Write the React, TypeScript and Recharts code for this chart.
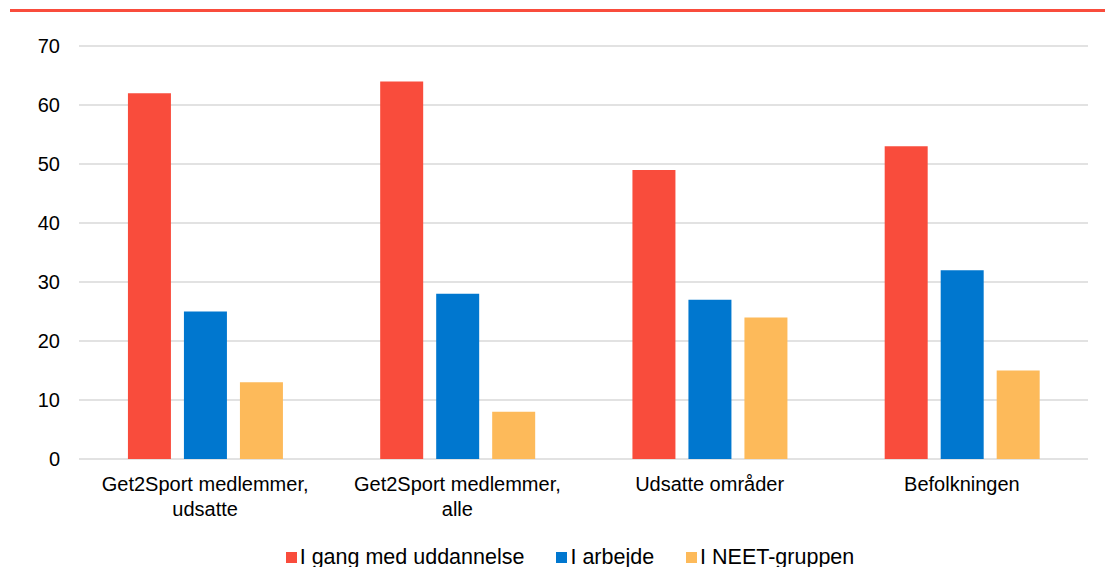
import React from "react";
import {
  BarChart,
  Bar,
  XAxis,
  YAxis,
  CartesianGrid,
  Legend,
} from "recharts";

const categories = [
  "Get2Sport medlemmer, udsatte",
  "Get2Sport medlemmer, alle",
  "Udsatte områder",
  "Befolkningen",
];
const uddannelse = [62, 64, 49, 53];
const arbejde = [25, 28, 27, 32];
const neet = [13, 8, 24, 15];
const yTicks = [0, 10, 20, 30, 40, 50, 60, 70];

const series = [
  { key: "uddannelse", name: "I gang med uddannelse", color: "#F94C3C" },
  { key: "arbejde", name: "I arbejde", color: "#0077CF" },
  { key: "neet", name: "I NEET-gruppen", color: "#FDBA5A" },
];

const data = categories.map((c, i) => ({
  name: c,
  uddannelse: uddannelse[i],
  arbejde: arbejde[i],
  neet: neet[i],
}));

const FONT = "'Liberation Sans', Arial, sans-serif";

// break long labels after the comma, like the original
function CategoryTick(props: any) {
  const { x, y, payload } = props;
  const label: string = payload.value;
  const idx = label.indexOf(", ");
  const lines =
    idx >= 0 ? [label.slice(0, idx + 1), label.slice(idx + 2)] : [label];
  return (
    <text
      x={x}
      y={y + 24}
      textAnchor="middle"
      fontSize={20}
      fontFamily={FONT}
      fill="#000"
    >
      {lines.map((l, i) => (
        <tspan key={i} x={x} dy={i === 0 ? 0 : 25}>
          {l}
        </tspan>
      ))}
    </text>
  );
}

function LegendContent() {
  return (
    <div
      style={{
        display: "flex",
        justifyContent: "center",
        paddingLeft: 52,
        fontFamily: FONT,
        fontSize: 21.5,
        color: "#000",
        lineHeight: "22px",
      }}
    >
      {series.map((s) => (
        <div
          key={s.key}
          style={{ display: "flex", alignItems: "center", margin: "0 16px" }}
        >
          <span
            style={{
              display: "inline-block",
              width: 11,
              height: 11,
              background: s.color,
              marginRight: 3,
            }}
          />
          <span>{s.name}</span>
        </div>
      ))}
    </div>
  );
}

export default function App() {
  return (
    <div
      style={{
        position: "absolute",
        left: 0,
        top: 0,
        width: 1105,
        height: 567,
        background: "#fff",
        overflow: "hidden",
      }}
    >
      <div
        style={{
          position: "absolute",
          left: 10,
          top: 9,
          width: 1095,
          height: 3,
          background: "#F94C3C",
        }}
      />
      <BarChart
        width={1105}
        height={567}
        data={data}
        margin={{ top: 46, right: 17, left: 0, bottom: 0 }}
        barCategoryGap="19.4%"
        barGap={13}
      >
        <CartesianGrid
          vertical={false}
          stroke="#D9D9D9"
          strokeWidth={1.5}
        />
        <XAxis
          dataKey="name"
          axisLine={false}
          tickLine={false}
          interval={0}
          height={75}
          tick={<CategoryTick />}
        />
        <YAxis
          width={79}
          domain={[0, 70]}
          ticks={yTicks}
          axisLine={false}
          tickLine={false}
          tickMargin={13}
          tick={{ fontSize: 20, fill: "#000", fontFamily: FONT }}
        />
        <Legend
          verticalAlign="bottom"
          height={33}
          wrapperStyle={{ bottom: -12 }}
          content={<LegendContent />}
        />
        {series.map((s) => (
          <Bar
            key={s.key}
            dataKey={s.key}
            name={s.name}
            fill={s.color}
            isAnimationActive={false}
          />
        ))}
      </BarChart>
    </div>
  );
}
